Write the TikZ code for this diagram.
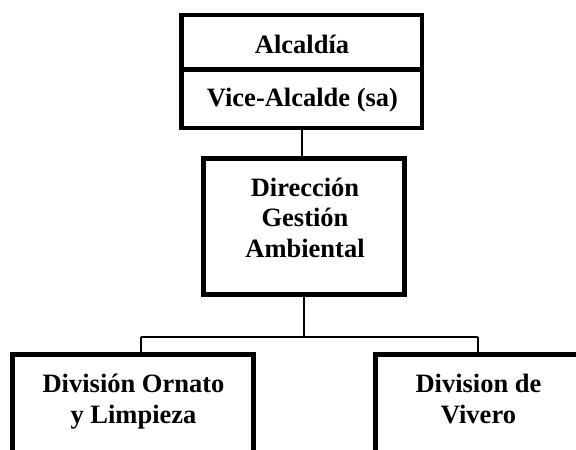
\documentclass[tikz,border=0pt]{standalone}
\usepackage{fontspec}
\setmainfont{Liberation Serif}
\begin{document}
\begin{tikzpicture}[x=1pt,y=-1pt,
  box/.style={draw, line width=4.5pt, inner sep=0pt, outer sep=0pt, fill=white},
  lbl/.style={font=\fontsize{26.5}{30.5}\selectfont\bfseries, align=center, inner sep=0pt, anchor=base},
  conn/.style={line width=1.8pt}]
\useasboundingbox (0,0) rectangle (576,450);
\clip (0,0) rectangle (576,450);
\coordinate (bl) at (140.7,337);
\coordinate (br) at (477.6,337);
% boxes
\node[box, minimum width=240.5pt, minimum height=54.5pt] (alc) at (301.75,42.25) {};
\node[box, minimum width=240.5pt, minimum height=58.5pt] (vice) at (301.75,98.75) {};
\node[box, minimum width=201pt, minimum height=136pt] (dir) at (304,226.5) {};
\node[box, minimum width=240.8pt, minimum height=125.5pt] (orn) at (133.1,417.25) {};
\node[box, minimum width=206pt, minimum height=125.5pt] (viv) at (478.5,417.25) {};
% connectors
\draw[conn] (vice.south) -- (vice.south |- dir.north);
\draw[conn] (dir.south) -- (dir.south |- bl);
\draw[conn] (bl) -- (br);
\draw[conn] (bl) -- (bl |- orn.north);
\draw[conn] (br) -- (br |- viv.north);
% labels
\node[lbl] (alcT) at (302,53) {Alcaldía};
\node[lbl] (viceT) at (302.5,106) {Vice-Alcalde (sa)};
\node[lbl] (dirT) at (305,257) {Dirección\\Gestión\\Ambiental};
\node[lbl] (ornT) at (133.5,423) {División Ornato\\y Limpieza};
\node[lbl] (vivT) at (478.5,423) {Division de\\Vivero};
\end{tikzpicture}
\end{document}
